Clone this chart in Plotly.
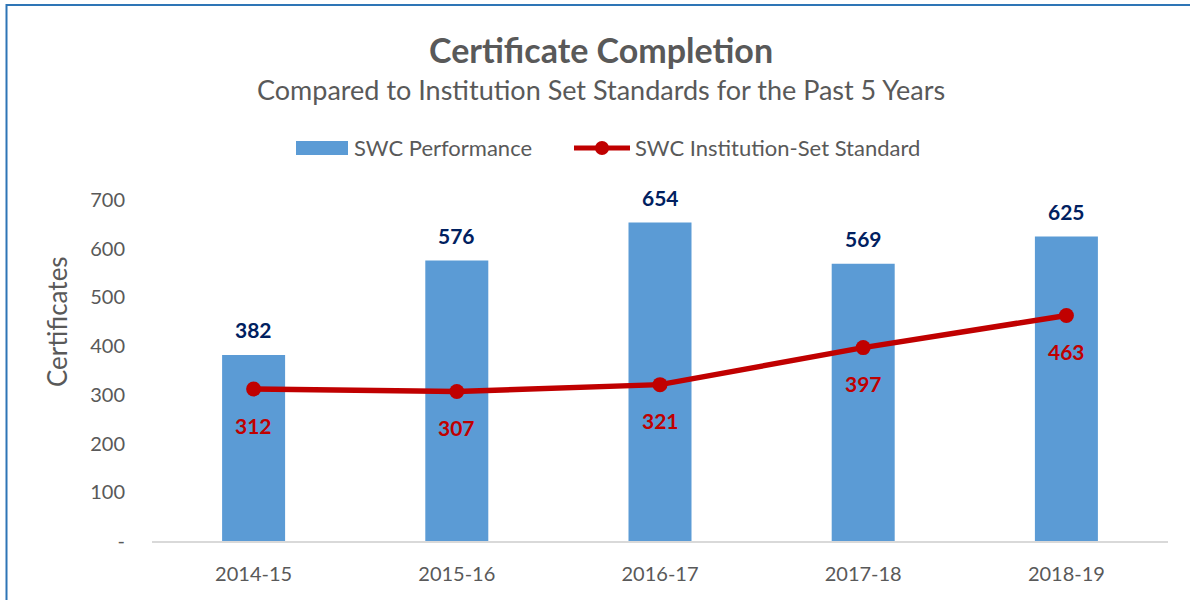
import plotly.graph_objects as go

years = ["2014-15", "2015-16", "2016-17", "2017-18", "2018-19"]
performance = [382, 576, 654, 569, 625]
standard = [312, 307, 321, 397, 463]
y_ticks = [0, 100, 200, 300, 400, 500, 600, 700]
y_tick_labels = ["-", "100", "200", "300", "400", "500", "600", "700"]

FONT = "Lato"
GREY = "#595959"
BLUE = "#5B9BD5"
RED = "#C00000"
NAVY = "#002060"

W, H = 1190, 600
ML, MR, MT, MB = 152, 22, 200, 59
pw, ph = W - ML - MR, H - MT - MB

def px_x(x):
    return (x - ML) / pw

def px_y(y):
    return (H - MB - y) / ph

fig = go.Figure()
fig.add_trace(go.Bar(
    x=years, y=performance, name="SWC Performance",
    marker=dict(color=BLUE, line=dict(width=0)),
    showlegend=False,
))
fig.add_trace(go.Scatter(
    x=years, y=standard, name="SWC Institution-Set Standard",
    mode="lines+markers",
    line=dict(color=RED, width=5.5),
    marker=dict(color=RED, size=15),
    showlegend=False,
))

annotations = []
for x, v in zip(years, performance):
    annotations.append(dict(x=x, y=v, text=f"<b>{v}</b>", showarrow=False,
                            yshift=25, font=dict(family=FONT, size=21, color=NAVY)))
for x, v in zip(years, standard):
    annotations.append(dict(x=x, y=v, text=f"<b>{v}</b>", showarrow=False,
                            yshift=-36, font=dict(family=FONT, size=21, color=RED)))

annotations.append(dict(xref="paper", yref="paper", x=px_x(601), y=px_y(50), yanchor="middle",
                        text="<b>Certificate Completion</b>", showarrow=False,
                        font=dict(family=FONT, size=34, color=GREY)))
annotations.append(dict(xref="paper", yref="paper", x=px_x(601), y=px_y(89), yanchor="middle",
                        text="Compared to Institution Set Standards for the Past 5 Years",
                        showarrow=False, font=dict(family=FONT, size=27, color=GREY)))
annotations.append(dict(xref="paper", yref="paper", x=px_x(57), y=px_y(322), xanchor="center",
                        yanchor="middle", text="Certificates", textangle=-90, showarrow=False,
                        font=dict(family=FONT, size=26, color=GREY)))

# custom legend
annotations.append(dict(xref="paper", yref="paper", x=px_x(352), y=px_y(148), xanchor="left",
                        yanchor="middle", text="SWC Performance", showarrow=False,
                        font=dict(family=FONT, size=22, color=GREY)))
annotations.append(dict(xref="paper", yref="paper", x=px_x(633), y=px_y(148), xanchor="left",
                        yanchor="middle", text="SWC Institution-Set Standard", showarrow=False,
                        font=dict(family=FONT, size=22, color=GREY)))

shapes = [
    dict(type="rect", xref="paper", yref="paper",
         x0=px_x(6.5), x1=px_x(1300), y0=px_y(700), y1=px_y(5),
         line=dict(color="#2E75B6", width=2), fillcolor="rgba(0,0,0,0)", layer="below"),
    dict(type="rect", xref="paper", yref="paper",
         x0=px_x(296), x1=px_x(348), y0=px_y(155), y1=px_y(141),
         line=dict(width=0), fillcolor=BLUE),
    dict(type="line", xref="paper", yref="paper",
         x0=px_x(574), x1=px_x(630), y0=px_y(148), y1=px_y(148),
         line=dict(color=RED, width=5)),
    dict(type="circle", xref="paper", yref="paper",
         x0=px_x(595), x1=px_x(609), y0=px_y(155), y1=px_y(141),
         line=dict(width=0), fillcolor=RED),
]

fig.update_layout(
    width=W, height=H,
    margin=dict(l=ML, r=MR, t=MT, b=MB),
    paper_bgcolor="white", plot_bgcolor="white",
    font=dict(family=FONT, color=GREY),
    bargap=0.69,
    showlegend=False,
    annotations=annotations,
    shapes=shapes,
    xaxis=dict(showgrid=False, showline=True, linecolor="#D9D9D9", linewidth=2,
               ticks="", ticklabelstandoff=14,
               tickfont=dict(family=FONT, size=20, color=GREY)),
    yaxis=dict(range=[0, 700], showgrid=False, showline=False, zeroline=False,
               tickvals=y_ticks, ticktext=y_tick_labels, ticks="", ticklabelstandoff=26,
               tickfont=dict(family=FONT, size=20, color=GREY)),
)

fig.write_html("out.html", config={"displayModeBar": False},
               post_script="document.body.style.margin='0px';")
